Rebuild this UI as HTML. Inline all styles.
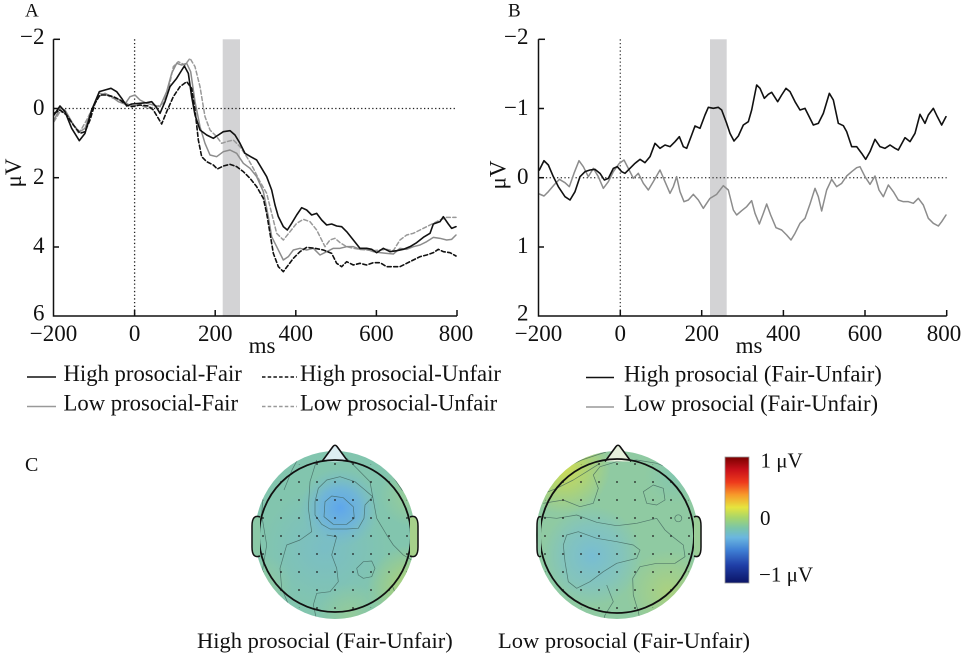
<!DOCTYPE html>
<html>
<head>
<meta charset="utf-8">
<style>
html,body{margin:0;padding:0;background:#fff;}
svg{display:block;}
text{font-family:"Liberation Serif","Times New Roman",serif;fill:#111;}
</style>
</head>
<body>
<svg width="962" height="653" viewBox="0 0 962 653" xmlns="http://www.w3.org/2000/svg">
<defs>
  <linearGradient id="jet" x1="0" y1="0" x2="0" y2="1">
    <stop offset="0" stop-color="#7a0000"/>
    <stop offset="0.1" stop-color="#c8101a"/>
    <stop offset="0.2" stop-color="#ee3a1c"/>
    <stop offset="0.3" stop-color="#f79a2a"/>
    <stop offset="0.4" stop-color="#e6e43e"/>
    <stop offset="0.48" stop-color="#a8d66a"/>
    <stop offset="0.56" stop-color="#7cc6a6"/>
    <stop offset="0.64" stop-color="#6ab6e0"/>
    <stop offset="0.74" stop-color="#3f7fd4"/>
    <stop offset="0.86" stop-color="#1f3ea6"/>
    <stop offset="1" stop-color="#0b1466"/>
  </linearGradient>
  <pattern id="dots1" patternUnits="userSpaceOnUse" x="326" y="527" width="18" height="18">
    <circle cx="9" cy="9" r="0.9" fill="#1a1a1a"/>
  </pattern>
  <pattern id="dots2" patternUnits="userSpaceOnUse" x="608" y="527" width="18" height="18">
    <circle cx="9" cy="9" r="0.9" fill="#1a1a1a"/>
  </pattern>
  <clipPath id="clipE1"><ellipse cx="335" cy="535" rx="80" ry="84"/></clipPath>
  <clipPath id="clipE2"><ellipse cx="617" cy="535" rx="81" ry="84"/></clipPath>
  <clipPath id="clipD1"><circle cx="335" cy="536" r="80"/></clipPath>
  <clipPath id="clipD2"><circle cx="617" cy="536" r="80"/></clipPath>
  <radialGradient id="g1blue" cx="340" cy="508" r="40" gradientUnits="userSpaceOnUse">
    <stop offset="0" stop-color="#5ea6ec" stop-opacity="1"/>
    <stop offset="0.5" stop-color="#6cb2e0" stop-opacity="0.8"/>
    <stop offset="1" stop-color="#78bccc" stop-opacity="0"/>
  </radialGradient>
  <radialGradient id="g1lb" cx="325" cy="548" r="62" gradientUnits="userSpaceOnUse">
    <stop offset="0" stop-color="#78bccb" stop-opacity="0.8"/>
    <stop offset="1" stop-color="#78bccb" stop-opacity="0"/>
  </radialGradient>
  <radialGradient id="g1yr" cx="412" cy="590" r="45" gradientUnits="userSpaceOnUse">
    <stop offset="0" stop-color="#b4d46c" stop-opacity="1"/>
    <stop offset="1" stop-color="#b4d46c" stop-opacity="0"/>
  </radialGradient>
  <radialGradient id="g1re" cx="412" cy="495" r="32" gradientUnits="userSpaceOnUse">
    <stop offset="0" stop-color="#a0d08e" stop-opacity="0.8"/>
    <stop offset="1" stop-color="#a0d08e" stop-opacity="0"/>
  </radialGradient>
  <radialGradient id="g1bot" cx="350" cy="615" r="32" gradientUnits="userSpaceOnUse">
    <stop offset="0" stop-color="#9ccd92" stop-opacity="0.7"/>
    <stop offset="1" stop-color="#9ccd92" stop-opacity="0"/>
  </radialGradient>
  <radialGradient id="g1lft" cx="262" cy="585" r="30" gradientUnits="userSpaceOnUse">
    <stop offset="0" stop-color="#98cc9a" stop-opacity="0.7"/>
    <stop offset="1" stop-color="#98cc9a" stop-opacity="0"/>
  </radialGradient>
  <radialGradient id="g2y" cx="563" cy="466" r="48" gradientUnits="userSpaceOnUse">
    <stop offset="0" stop-color="#d2dc50" stop-opacity="1"/>
    <stop offset="0.5" stop-color="#bcd762" stop-opacity="0.7"/>
    <stop offset="1" stop-color="#bcd762" stop-opacity="0"/>
  </radialGradient>
  <radialGradient id="g2b" cx="592" cy="556" r="50" gradientUnits="userSpaceOnUse">
    <stop offset="0" stop-color="#76bcd6" stop-opacity="0.95"/>
    <stop offset="0.6" stop-color="#7cc0cc" stop-opacity="0.6"/>
    <stop offset="1" stop-color="#7cc0cc" stop-opacity="0"/>
  </radialGradient>
  <radialGradient id="g2lr" cx="668" cy="592" r="42" gradientUnits="userSpaceOnUse">
    <stop offset="0" stop-color="#aed27c" stop-opacity="0.9"/>
    <stop offset="1" stop-color="#aed27c" stop-opacity="0"/>
  </radialGradient>
  <radialGradient id="g2tr" cx="675" cy="475" r="30" gradientUnits="userSpaceOnUse">
    <stop offset="0" stop-color="#80c6b2" stop-opacity="0.8"/>
    <stop offset="1" stop-color="#80c6b2" stop-opacity="0"/>
  </radialGradient>
</defs>

<!-- ================= PANEL A ================= -->
<text x="25" y="16.5" font-size="19">A</text>
<rect x="222.7" y="39.3" width="17.3" height="276.7" fill="#d3d3d5"/>
<!-- dotted zero lines -->
<line x1="54" y1="108.5" x2="457" y2="108.5" stroke="#222" stroke-width="1.3" stroke-dasharray="1.3 2.4"/>
<line x1="134.6" y1="39.3" x2="134.6" y2="316" stroke="#222" stroke-width="1.3" stroke-dasharray="1.3 2.4"/>

<g transform="scale(0.333333)" fill="none" stroke-linejoin="round" stroke-linecap="round">
  <!-- gray dashed: Low prosocial-Unfair -->
  <polyline stroke="#999" stroke-width="4.5" stroke-dasharray="12 7.5" points="162,365 180,335 200,340 220,375 240,395 260,360 280,320 300,280 320,285 340,295 360,300 380,310 400,318 420,315 445,325 470,320 490,310 505,270 520,200 535,185 555,195 570,175 585,200 600,260 615,350 630,390 650,410 665,430 680,425 700,420 720,440 740,470 760,505 780,545 800,580 815,640 830,700 850,720 870,695 890,670 910,658 930,665 950,690 975,740 990,720 1005,715 1020,728 1040,740 1060,745 1080,748 1100,750 1120,752 1140,750 1160,748 1180,752 1200,720 1220,705 1240,700 1260,690 1280,680 1300,670 1320,660 1340,652 1368,652"/>
  <!-- gray solid: Low prosocial-Fair -->
  <polyline stroke="#8c8c8c" stroke-width="4.5" points="162,360 180,325 195,330 215,365 235,398 255,385 275,330 295,290 315,280 335,290 355,305 375,312 390,290 405,285 420,300 440,310 460,315 480,320 500,275 515,220 530,190 545,195 560,190 572,215 585,305 600,380 615,430 630,465 650,470 670,455 690,450 710,460 730,490 750,505 770,530 790,575 805,650 815,710 830,740 850,780 865,770 880,750 900,745 920,750 940,745 960,765 980,755 1000,745 1020,745 1040,740 1060,740 1080,748 1100,748 1120,755 1140,758 1160,760 1180,762 1200,745 1220,748 1240,740 1260,735 1280,725 1300,712 1320,715 1340,720 1355,718 1368,705"/>
  <!-- black dashed: High prosocial-Unfair -->
  <polyline stroke="#111" stroke-width="4.8" stroke-dasharray="12 7.5" points="162,340 180,330 200,345 220,375 240,400 255,395 270,360 285,310 300,285 320,285 340,290 360,300 380,315 395,320 420,315 445,318 460,330 475,355 485,372 500,335 520,290 540,260 560,245 575,265 585,330 595,420 605,470 620,485 640,495 652,507 670,498 690,493 710,500 730,515 750,535 770,560 790,595 800,640 810,700 820,760 835,800 850,815 865,795 880,775 900,755 920,742 945,745 970,750 995,760 1010,790 1025,800 1040,785 1060,795 1080,790 1100,795 1120,788 1140,788 1160,800 1180,800 1200,800 1220,790 1240,780 1260,770 1280,765 1300,758 1315,748 1330,755 1350,758 1368,768"/>
  <!-- black solid: High prosocial-Fair -->
  <polyline stroke="#111" stroke-width="4.8" points="162,345 180,318 195,335 215,385 238,422 255,400 275,330 298,275 315,270 333,265 350,275 365,295 380,318 395,312 420,310 440,308 455,305 468,320 480,340 495,305 510,260 530,235 553,198 565,220 575,290 585,345 600,390 620,405 640,415 655,405 670,395 690,392 705,405 720,430 735,460 752,470 770,480 785,505 800,530 815,570 825,615 835,650 850,680 862,690 875,670 890,645 905,623 920,630 935,645 950,640 965,660 980,675 995,672 1010,678 1025,680 1040,695 1060,720 1080,745 1100,745 1115,748 1130,758 1150,745 1170,755 1190,752 1210,748 1230,740 1250,728 1270,712 1290,700 1300,672 1320,665 1330,650 1345,672 1355,685 1368,680"/>
</g>

<!-- axes A -->
<g stroke="#111" stroke-width="1.5" fill="none">
  <polyline points="53.5,39.3 53.5,316 457,316"/>
  <line x1="53.5" y1="39.3" x2="60" y2="39.3"/>
  <line x1="53.5" y1="108.5" x2="59" y2="108.5"/>
  <line x1="53.5" y1="177.7" x2="59" y2="177.7"/>
  <line x1="53.5" y1="247" x2="59" y2="247"/>
  <line x1="134.6" y1="316" x2="134.6" y2="310"/>
  <line x1="215.2" y1="316" x2="215.2" y2="310"/>
  <line x1="295.8" y1="316" x2="295.8" y2="310"/>
  <line x1="376.4" y1="316" x2="376.4" y2="310"/>
  <line x1="457" y1="316" x2="457" y2="310"/>
</g>
<g font-size="23" text-anchor="end">
  <text x="44.5" y="44">−2</text>
  <text x="44.5" y="115">0</text>
  <text x="44.5" y="184">2</text>
  <text x="44.5" y="253">4</text>
  <text x="44.5" y="320.5">6</text>
</g>
<g font-size="23" text-anchor="middle">
  <text x="53.5" y="341">−200</text>
  <text x="134.6" y="341">0</text>
  <text x="215.2" y="341">200</text>
  <text x="295.8" y="341">400</text>
  <text x="376.4" y="341">600</text>
  <text x="456" y="341">800</text>
  <text x="262" y="353">ms</text>
</g>
<text font-size="23" text-anchor="middle" transform="translate(21,173) rotate(-90)">μV</text>

<!-- legend A -->
<line x1="27" y1="377" x2="56" y2="377" stroke="#111" stroke-width="1.5"/>
<line x1="27" y1="406.5" x2="56" y2="406.5" stroke="#999" stroke-width="1.5"/>
<line x1="262" y1="377" x2="297" y2="377" stroke="#111" stroke-width="1.5" stroke-dasharray="3.5 2.2"/>
<line x1="262" y1="406.5" x2="297" y2="406.5" stroke="#999" stroke-width="1.5" stroke-dasharray="3.5 2.2"/>
<g font-size="22.7">
  <text x="63.5" y="381">High prosocial-Fair</text>
  <text x="63.5" y="410.5">Low prosocial-Fair</text>
  <text x="300" y="381">High prosocial-Unfair</text>
  <text x="300" y="410.5">Low prosocial-Unfair</text>
</g>

<!-- ================= PANEL B ================= -->
<text x="508" y="16.5" font-size="19">B</text>
<rect x="710" y="39.3" width="16.7" height="276.7" fill="#d3d3d5"/>
<line x1="538.5" y1="177.7" x2="946.7" y2="177.7" stroke="#444" stroke-width="1.3" stroke-dasharray="1.3 2.4"/>
<line x1="620.3" y1="39.3" x2="620.3" y2="316" stroke="#444" stroke-width="1.3" stroke-dasharray="1.3 2.4"/>

<g transform="translate(480,0) scale(0.333333)" fill="none" stroke-linejoin="round" stroke-linecap="round">
  <polyline stroke="#8c8c8c" stroke-width="4.5" points="178,582 192,588 205,575 222,555 238,538 255,548 268,560 282,520 297,482 310,500 325,530 340,505 355,530 370,565 385,545 400,515 418,490 432,480 450,515 460,535 475,520 490,550 505,570 520,545 540,510 555,545 570,580 580,560 590,530 600,575 612,605 625,600 640,583 655,600 670,625 690,595 710,583 730,557 745,570 760,630 770,645 785,632 800,620 815,602 825,640 838,672 850,640 860,612 872,645 888,683 905,690 920,705 933,720 945,700 960,670 975,655 990,612 1005,565 1015,590 1025,633 1040,570 1055,538 1070,560 1085,550 1100,528 1115,515 1130,503 1140,500 1155,530 1170,553 1185,528 1197,570 1210,590 1225,555 1240,575 1255,600 1270,605 1285,605 1300,610 1315,595 1330,615 1345,655 1360,670 1375,678 1385,665 1398,645"/>
  <polyline stroke="#111" stroke-width="4.8" points="178,510 192,482 205,495 220,530 235,560 255,590 270,600 285,575 300,530 315,515 330,510 345,508 360,520 373,540 385,535 400,505 412,500 425,515 435,520 450,505 465,490 480,478 495,488 510,470 525,430 540,445 555,435 570,440 585,425 598,410 610,440 620,445 635,405 645,378 660,385 675,345 685,322 700,325 715,322 725,330 740,370 750,400 762,423 775,408 790,375 805,365 815,330 830,255 840,265 853,295 865,283 875,277 893,305 905,285 918,265 930,275 945,305 960,330 975,325 985,345 1000,375 1015,370 1030,340 1048,280 1060,300 1075,370 1090,377 1100,395 1115,440 1130,440 1145,460 1157,478 1170,455 1185,418 1200,440 1215,445 1230,435 1245,445 1255,450 1275,413 1290,425 1305,400 1320,343 1335,370 1345,345 1360,325 1372,350 1385,375 1398,350"/>
</g>

<g stroke="#111" stroke-width="1.5" fill="none">
  <polyline points="538.5,39.3 538.5,316 946.7,316"/>
  <line x1="538.5" y1="39.3" x2="545" y2="39.3"/>
  <line x1="538.5" y1="108.5" x2="544" y2="108.5"/>
  <line x1="538.5" y1="177.7" x2="544" y2="177.7"/>
  <line x1="538.5" y1="247" x2="544" y2="247"/>
  <line x1="620.3" y1="316" x2="620.3" y2="310"/>
  <line x1="701.7" y1="316" x2="701.7" y2="310"/>
  <line x1="783.4" y1="316" x2="783.4" y2="310"/>
  <line x1="865" y1="316" x2="865" y2="310"/>
  <line x1="946.7" y1="316" x2="946.7" y2="310"/>
</g>
<g font-size="23" text-anchor="end">
  <text x="528.5" y="44">−2</text>
  <text x="528.5" y="115">−1</text>
  <text x="528.5" y="184">0</text>
  <text x="528.5" y="253">1</text>
  <text x="528.5" y="320.5">2</text>
</g>
<g font-size="23" text-anchor="middle">
  <text x="538.5" y="341">−200</text>
  <text x="620.3" y="341">0</text>
  <text x="701.7" y="341">200</text>
  <text x="783.4" y="341">400</text>
  <text x="865" y="341">600</text>
  <text x="944" y="341">800</text>
  <text x="749" y="353">ms</text>
</g>
<text font-size="23" text-anchor="middle" transform="translate(505.5,175) rotate(-90)">μV</text>

<!-- legend B -->
<line x1="586" y1="377.5" x2="614" y2="377.5" stroke="#111" stroke-width="1.5"/>
<line x1="586" y1="407" x2="614" y2="407" stroke="#999" stroke-width="1.5"/>
<g font-size="22.7">
  <text x="624" y="381.5">High prosocial (Fair-Unfair)</text>
  <text x="624" y="411">Low prosocial (Fair-Unfair)</text>
</g>

<!-- ================= PANEL C ================= -->
<text x="25" y="471" font-size="20">C</text>

<!-- Topomap 1 -->
<g>
  <ellipse cx="335" cy="535" rx="80" ry="84" fill="#82c5ae"/>
  <g clip-path="url(#clipE1)">
    <rect x="250" y="450" width="170" height="170" fill="url(#g1lb)"/>
    <rect x="250" y="450" width="170" height="170" fill="url(#g1re)"/>
    <rect x="250" y="450" width="170" height="170" fill="url(#g1bot)"/>
    <rect x="250" y="450" width="170" height="170" fill="url(#g1lft)"/>
    <rect x="250" y="450" width="170" height="170" fill="url(#g1yr)"/>
    <rect x="250" y="450" width="170" height="170" fill="url(#g1blue)"/>
    <g fill="none" stroke="#3c5d58" stroke-width="0.7" stroke-opacity="0.75" stroke-linejoin="round">
      <polygon points="325,501.7 331.7,496 343.3,497.7 353.3,506.7 354.3,518.3 346.7,524.3 333.3,524.3 324,516.7"/>
      <polygon points="315,501.7 318.3,488.3 326.7,480 340,476.7 355,481.7 365,490 372.7,496.7 365,505 364,518.3 358.3,528.3 346.7,529 330,529 321.7,524.3 315,515"/>
      <polyline points="316.7,460 310,481.7 308.3,508.3 311.7,531.7 300,540 286.7,545 280,568.3 281.7,588.3 290,608.3 292,620"/>
      <polyline points="326.7,535 336.7,536.7 331.7,555 336.7,568.3 338.3,581.7 330,591.7 316.7,593.3 313.3,605 316.7,620"/>
      <polyline points="346.7,458.3 356.7,468.3 370,481.7 372.7,496.7 376.7,518.3 386.7,535 393.3,545 403.3,555 415,562"/>
      <polygon points="356.7,568.3 363.3,561.7 371.7,561 375,568.3 371.7,576.7 363.3,578.3 358.3,575"/>
      <polyline points="263,495 261.7,515 266.7,545 261.7,575 265,600"/>
      <polyline points="380,458 392,475 402,490 414,500"/>
      <polyline points="300,455 292,470 284,490"/>
      <polyline points="392,585 398,600 404,612"/>
    </g>
  </g>
  <rect x="250" y="450" width="170" height="175" fill="url(#dots1)" clip-path="url(#clipD1)"/>
  <path d="M322,461.5 L333,446.5 Q335,444 337,446.5 L348,461.5" fill="#dceef2" stroke="#111" stroke-width="1.6"/>
  <circle cx="335" cy="536" r="76" fill="none" stroke="#111" stroke-width="1.8"/>
  <path d="M260,517 Q252,514 252,526 L252,547 Q252,559 260,556" fill="#8ac8a6" stroke="#111" stroke-width="1.5"/>
  <path d="M410,517 Q418,514 418,526 L418,547 Q418,559 410,556" fill="#a6d08a" stroke="#111" stroke-width="1.5"/>
</g>

<!-- Topomap 2 -->
<g>
  <ellipse cx="617" cy="535" rx="81" ry="84" fill="#8fcaa2"/>
  <g clip-path="url(#clipE2)">
    <rect x="530" y="450" width="175" height="170" fill="url(#g2tr)"/>
    <rect x="530" y="450" width="175" height="170" fill="url(#g2lr)"/>
    <rect x="530" y="450" width="175" height="170" fill="url(#g2b)"/>
    <rect x="530" y="450" width="175" height="170" fill="url(#g2y)"/>
    <g fill="none" stroke="#3c5d58" stroke-width="0.7" stroke-opacity="0.75" stroke-linejoin="round">
      <polygon points="566.7,535 578.3,531.7 596.7,538.3 616.7,541.7 633.3,545 640,550 636.7,558.3 616.7,563.3 603.3,571.7 590,581.7 576.7,588.3 568.3,581.7 565,561.7 563.3,545"/>
      <polyline points="540,516.7 556.7,518.3 576.7,515 596.7,522.3 616.7,525.7 636.7,523.3 656.7,518.3 665,530 672.7,536.7 683.3,545 685,556.7 675,563.3 656.7,563.3 640,566.7 632.7,578.3 633.3,595 638.3,611.7 640,620"/>
      <polyline points="543.3,503.3 563.3,500 580,506.7 593.3,503.3 598.3,488.3 593.3,475 600,466.7 616.7,461.7 636.7,460 656.7,463.3 670,468.3 683.3,478.3 695,492"/>
      <polygon points="643.3,491.7 653.3,485 663.3,488.3 665,500 656.7,505 646.7,503.3"/>
      <circle cx="678.3" cy="518.3" r="3.5"/>
      <polyline points="546.7,480 563.3,468.3 581.7,460 596.7,455 606,452"/>
      <polyline points="540,495 556.7,488.3 573.3,480 586.7,471.7 600,463.3"/>
      <polyline points="606.7,585 613.3,601.7 605,615 603,622"/>
      <polyline points="556.7,591.7 570,608.3 578,618"/>
    </g>
  </g>
  <rect x="530" y="450" width="175" height="175" fill="url(#dots2)" clip-path="url(#clipD2)"/>
  <path d="M605,461.5 L616,446.5 Q618,444 620,446.5 L631,461.5" fill="#e6f0dc" stroke="#111" stroke-width="1.6"/>
  <circle cx="617" cy="536" r="77" fill="none" stroke="#111" stroke-width="1.8"/>
  <path d="M541,517 Q537,515 537,526 L537,547 Q537,559 541,556" fill="#90c9a6" stroke="#111" stroke-width="1.5"/>
  <path d="M694,517 Q701,514 701,526 L701,547 Q701,559 694,556" fill="#9bce98" stroke="#111" stroke-width="1.5"/>
</g>

<!-- colorbar -->
<rect x="725" y="457" width="24" height="126" fill="url(#jet)" stroke="#9a9a9a" stroke-width="0.8"/>
<g font-size="21">
  <text x="760.5" y="467.5">1 μV</text>
  <text x="760" y="525">0</text>
  <text x="759" y="581.5">−1 μV</text>
</g>

<!-- topomap labels -->
<g font-size="22.5">
  <text x="197" y="648">High prosocial (Fair-Unfair)</text>
  <text x="498" y="648">Low prosocial (Fair-Unfair)</text>
</g>
</svg>
</body>
</html>
